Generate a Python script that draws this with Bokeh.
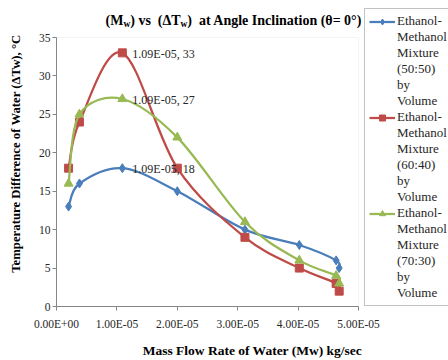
from bokeh.plotting import figure
from bokeh.models import (Range1d, FixedTicker, CustomJSTickFormatter, Legend, LegendItem,
                          Label, BoxAnnotation)
from bokeh.core.properties import value
from bokeh.embed import file_html
from bokeh.resources import INLINE

# ---------------- data ----------------
mass_flow = [2.0e-6, 3.8e-6, 1.09e-5, 2.0e-5, 3.12e-5, 4.02e-5, 4.63e-5, 4.68e-5]
dT_50_50 = [13, 16, 18, 15, 10, 8, 6, 5]
dT_60_40 = [18, 24, 33, 18, 9, 5, 3, 2]
dT_70_30 = [16, 25, 27, 22, 11, 6, 4, 3]
series_names = [
    ["Ethanol-", "Methanol", "Mixture", "(50:50)", "by", "Volume"],
    ["Ethanol-", "Methanol", "Mixture", "(60:40)", "by", "Volume"],
    ["Ethanol-", "Methanol", "Mixture", "(70:30)", "by", "Volume"],
]
x_ticks = [0, 1e-5, 2e-5, 3e-5, 4e-5, 5e-5]
x_tick_labels = ["0.00E+00", "1.00E-05", "2.00E-05", "3.00E-05", "4.00E-05", "5.00E-05"]
y_ticks = [0, 5, 10, 15, 20, 25, 30, 35]
NB = "\u00a0"
title_pieces = [("(M", False), ("w", True), (")" + NB + "vs" + NB + NB + "(ΔT", False), ("w", True),
                (")" + NB + NB + "at Angle Inclination (θ= 0°)", False)]
x_title = "Mass Flow Rate of Water (Mw) kg/sec"
y_title = "Temperature Difference of Water (ΔTw), °C"

colors = ["#4A7EBB", "#BE4B48", "#98B954"]
markers = ["diamond", "square", "triangle"]
msizes = [9, 8, 9]
series = [dT_50_50, dT_60_40, dT_70_30]

SERIF = "Liberation Serif"
AXIS_GRAY = "#868686"
TEXT = "#262626"

# ---------------- layout (pixels) ----------------
W, H = 448, 360
LEFT, BOTTOM = 56, 54           # axis panels
PLOT_RIGHT, PLOT_TOP = 358, 37  # where the last x tick / top y tick sit
frame_w = W - LEFT
frame_h = H - BOTTOM
x_end = x_ticks[-1] * frame_w / (PLOT_RIGHT - LEFT)
y_end = y_ticks[-1] * frame_h / (frame_h - PLOT_TOP)

p = figure(width=W, height=H, output_backend="svg", toolbar_location=None, title=None,
           x_range=Range1d(0, x_end), y_range=Range1d(0, y_end),
           min_border_left=LEFT, min_border_right=0, min_border_top=0, min_border_bottom=BOTTOM)
p.grid.visible = False
p.outline_line_color = None
p.background_fill_color = "white"
p.border_fill_color = "white"

# faint plot-area border
p.add_layout(BoxAnnotation(left=x_ticks[0], right=x_ticks[-1], bottom=y_ticks[0], top=y_ticks[-1],
                           fill_alpha=0, line_color="#D9D9D9", line_width=1, level="underlay"))

for ax in (p.xaxis[0], p.yaxis[0]):
    ax.axis_line_color = AXIS_GRAY
    ax.major_tick_line_color = AXIS_GRAY
    ax.minor_tick_line_color = None
    ax.major_tick_in = 0
    ax.major_tick_out = 4
    ax.major_label_text_font = SERIF
    ax.major_label_text_font_size = "11.5px"
    ax.major_label_text_color = TEXT
    ax.axis_label_text_font = SERIF
    ax.axis_label_text_font_style = "bold"
    ax.axis_label_text_color = "#000000"

p.yaxis.ticker = FixedTicker(ticks=y_ticks)
p.yaxis.bounds = (y_ticks[0], y_ticks[-1])
p.yaxis.major_label_standoff = 2
p.yaxis.axis_label = y_title
p.yaxis.axis_label_text_font_size = "12.75px"
p.yaxis.axis_label_standoff = 13

p.xaxis.ticker = FixedTicker(ticks=x_ticks)
p.xaxis.bounds = (x_ticks[0], x_ticks[-1])
p.xaxis.major_label_standoff = 7
p.xaxis.axis_label = x_title
p.xaxis.axis_label_text_font_size = "13.5px"
p.xaxis.axis_label_standoff = 10
p.xaxis.formatter = CustomJSTickFormatter(args=dict(labels=x_tick_labels, vals=x_ticks), code="""
let best = 0;
for (let i = 0; i < vals.length; i++) {
  if (Math.abs(vals[i] - tick) < Math.abs(vals[best] - tick)) best = i;
}
return labels[best];
""")


def smooth_segments(xs, ys, t=1.0 / 6.0):
    n = len(xs)
    seg = dict(x0=[], y0=[], x1=[], y1=[], cx0=[], cy0=[], cx1=[], cy1=[])
    for i in range(n - 1):
        i0 = max(i - 1, 0)
        i3 = min(i + 2, n - 1)
        seg["x0"].append(xs[i]); seg["y0"].append(ys[i])
        seg["x1"].append(xs[i + 1]); seg["y1"].append(ys[i + 1])
        seg["cx0"].append(xs[i] + (xs[i + 1] - xs[i0]) * t)
        seg["cy0"].append(ys[i] + (ys[i + 1] - ys[i0]) * t)
        seg["cx1"].append(xs[i + 1] - (xs[i3] - xs[i]) * t)
        seg["cy1"].append(ys[i + 1] - (ys[i3] - ys[i]) * t)
    return seg


curve_r, marker_r = [], []
for ys, c, m, ms in zip(series, colors, markers, msizes):
    seg = smooth_segments(mass_flow, ys)
    curve_r.append(p.bezier(line_color=c, line_width=2.25, **seg))
    marker_r.append(p.scatter(mass_flow, ys, marker=m, size=ms, fill_color=c, line_color=c))

for ys in series:
    k = max(range(len(ys)), key=lambda i: ys[i])
    p.text(x=[mass_flow[k]], y=[ys[k]], text=[f"{mass_flow[k]:.2E}, {ys[k]:g}"],
           x_offset=10, y_offset=1, text_align="left", text_baseline="middle",
           text_font=value(SERIF), text_font_size="12px", text_color=TEXT)

# ---------------- title with subscripts ----------------
TB = {' ': 250, NB: 250, '(': 333, ')': 333, ',': 250, '/': 278, '=': 570, '°': 400, 'Δ': 612, 'θ': 500,
      'A': 722, 'C': 722, 'D': 722, 'F': 611, 'I': 389, 'M': 944, 'R': 722, 'T': 667, 'W': 1000,
      'a': 500, 'c': 444, 'e': 444, 'f': 333, 'g': 500, 'i': 278, 'k': 556, 'l': 278, 'm': 833,
      'n': 556, 'o': 500, 'p': 556, 'r': 444, 's': 389, 't': 333, 'u': 556, 'v': 500, 'w': 722,
      '0': 500}


def tw(s, size):
    return sum(TB.get(ch, 500) for ch in s) * size / 1000.0


def rich(pieces, px, py, size, subsize):
    """px, py: start of the baseline in canvas pixels (from top-left)."""
    pos = 0.0
    for txt, sub in pieces:
        fs = subsize if sub else size
        drop = 3.0 if sub else 0.0
        p.add_layout(Label(x=px + pos - LEFT, y=frame_h - (py + drop), x_units="screen", y_units="screen",
                           text=txt, text_font=SERIF, text_font_size=f"{fs}px", text_font_style="bold",
                           text_align="left", text_baseline="alphabetic", text_color="#000000"))
        pos += tw(txt, fs)


rich(title_pieces, 105, 20, 14, 9.5)

# ---------------- legend ----------------
items = []
blank = p.line(mass_flow, dT_50_50, line_alpha=0)
for names, cr, mr in zip(series_names, curve_r, marker_r):
    items.append(LegendItem(label=names[0], renderers=[cr, mr]))
    for nm in names[1:]:
        items.append(LegendItem(label=nm, renderers=[blank]))

legend = Legend(items=items, location=(364 - LEFT, 0), margin=0, padding=4, spacing=0,
                glyph_width=26, glyph_height=15, label_height=15, label_standoff=2,
                label_text_font=SERIF, label_text_font_size="13px", label_text_color=TEXT,
                border_line_color=AXIS_GRAY, border_line_width=1,
                background_fill_color="white", background_fill_alpha=1.0)
p.add_layout(legend, "center")

open("out.html", "w").write(file_html(p, INLINE))
